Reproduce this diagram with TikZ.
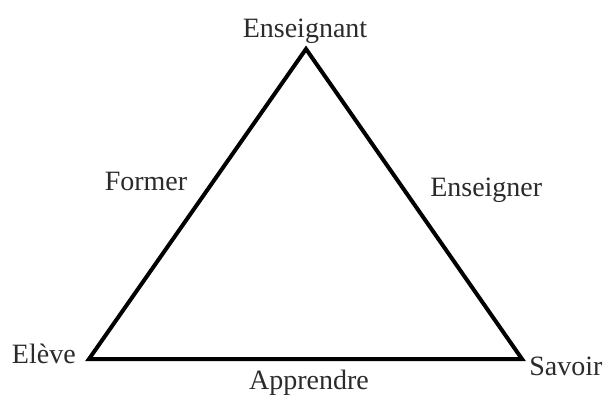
\documentclass[tikz,border=0pt]{standalone}
\usepackage{fontspec}
\setmainfont{Liberation Serif}
\usetikzlibrary{positioning}
\definecolor{inkgray}{HTML}{2B2B2B}

\begin{document}
\begin{tikzpicture}[
    x=0.75pt, y=-0.75pt,
    every node/.style={text=inkgray, inner sep=0pt},
    lbl/.style={font=\fontsize{21}{25}\selectfont, anchor=base},
    edge/.style={black, line width=3pt, line join=miter},
  ]

  % Frame
  \useasboundingbox (0,0) rectangle (603,400);
  \fill[white] (0,0) rectangle (603,400);

  % === Triangle corners ===
  \coordinate (top) at (306,49);
  \coordinate (left) at (89,359);
  \coordinate (right) at (522,359);

  % Sides
  \draw[edge] (top) -- (right) -- (left) -- cycle;

  % Corner labels
  \node[lbl] (enseignant) at (305,37) {Enseignant};
  \node[lbl, anchor=base east] (eleve) at (76,363) {Elève};
  \node[lbl, anchor=base west] (savoir) at (529,375) {Savoir};

  % Side labels
  \node[lbl] (former) at (146,190) {Former};
  \node[lbl, anchor=base west] (enseigner) at (430,196) {Enseigner};
  \node[lbl] (apprendre) at (309,389) {Apprendre};

\end{tikzpicture}
\end{document}
